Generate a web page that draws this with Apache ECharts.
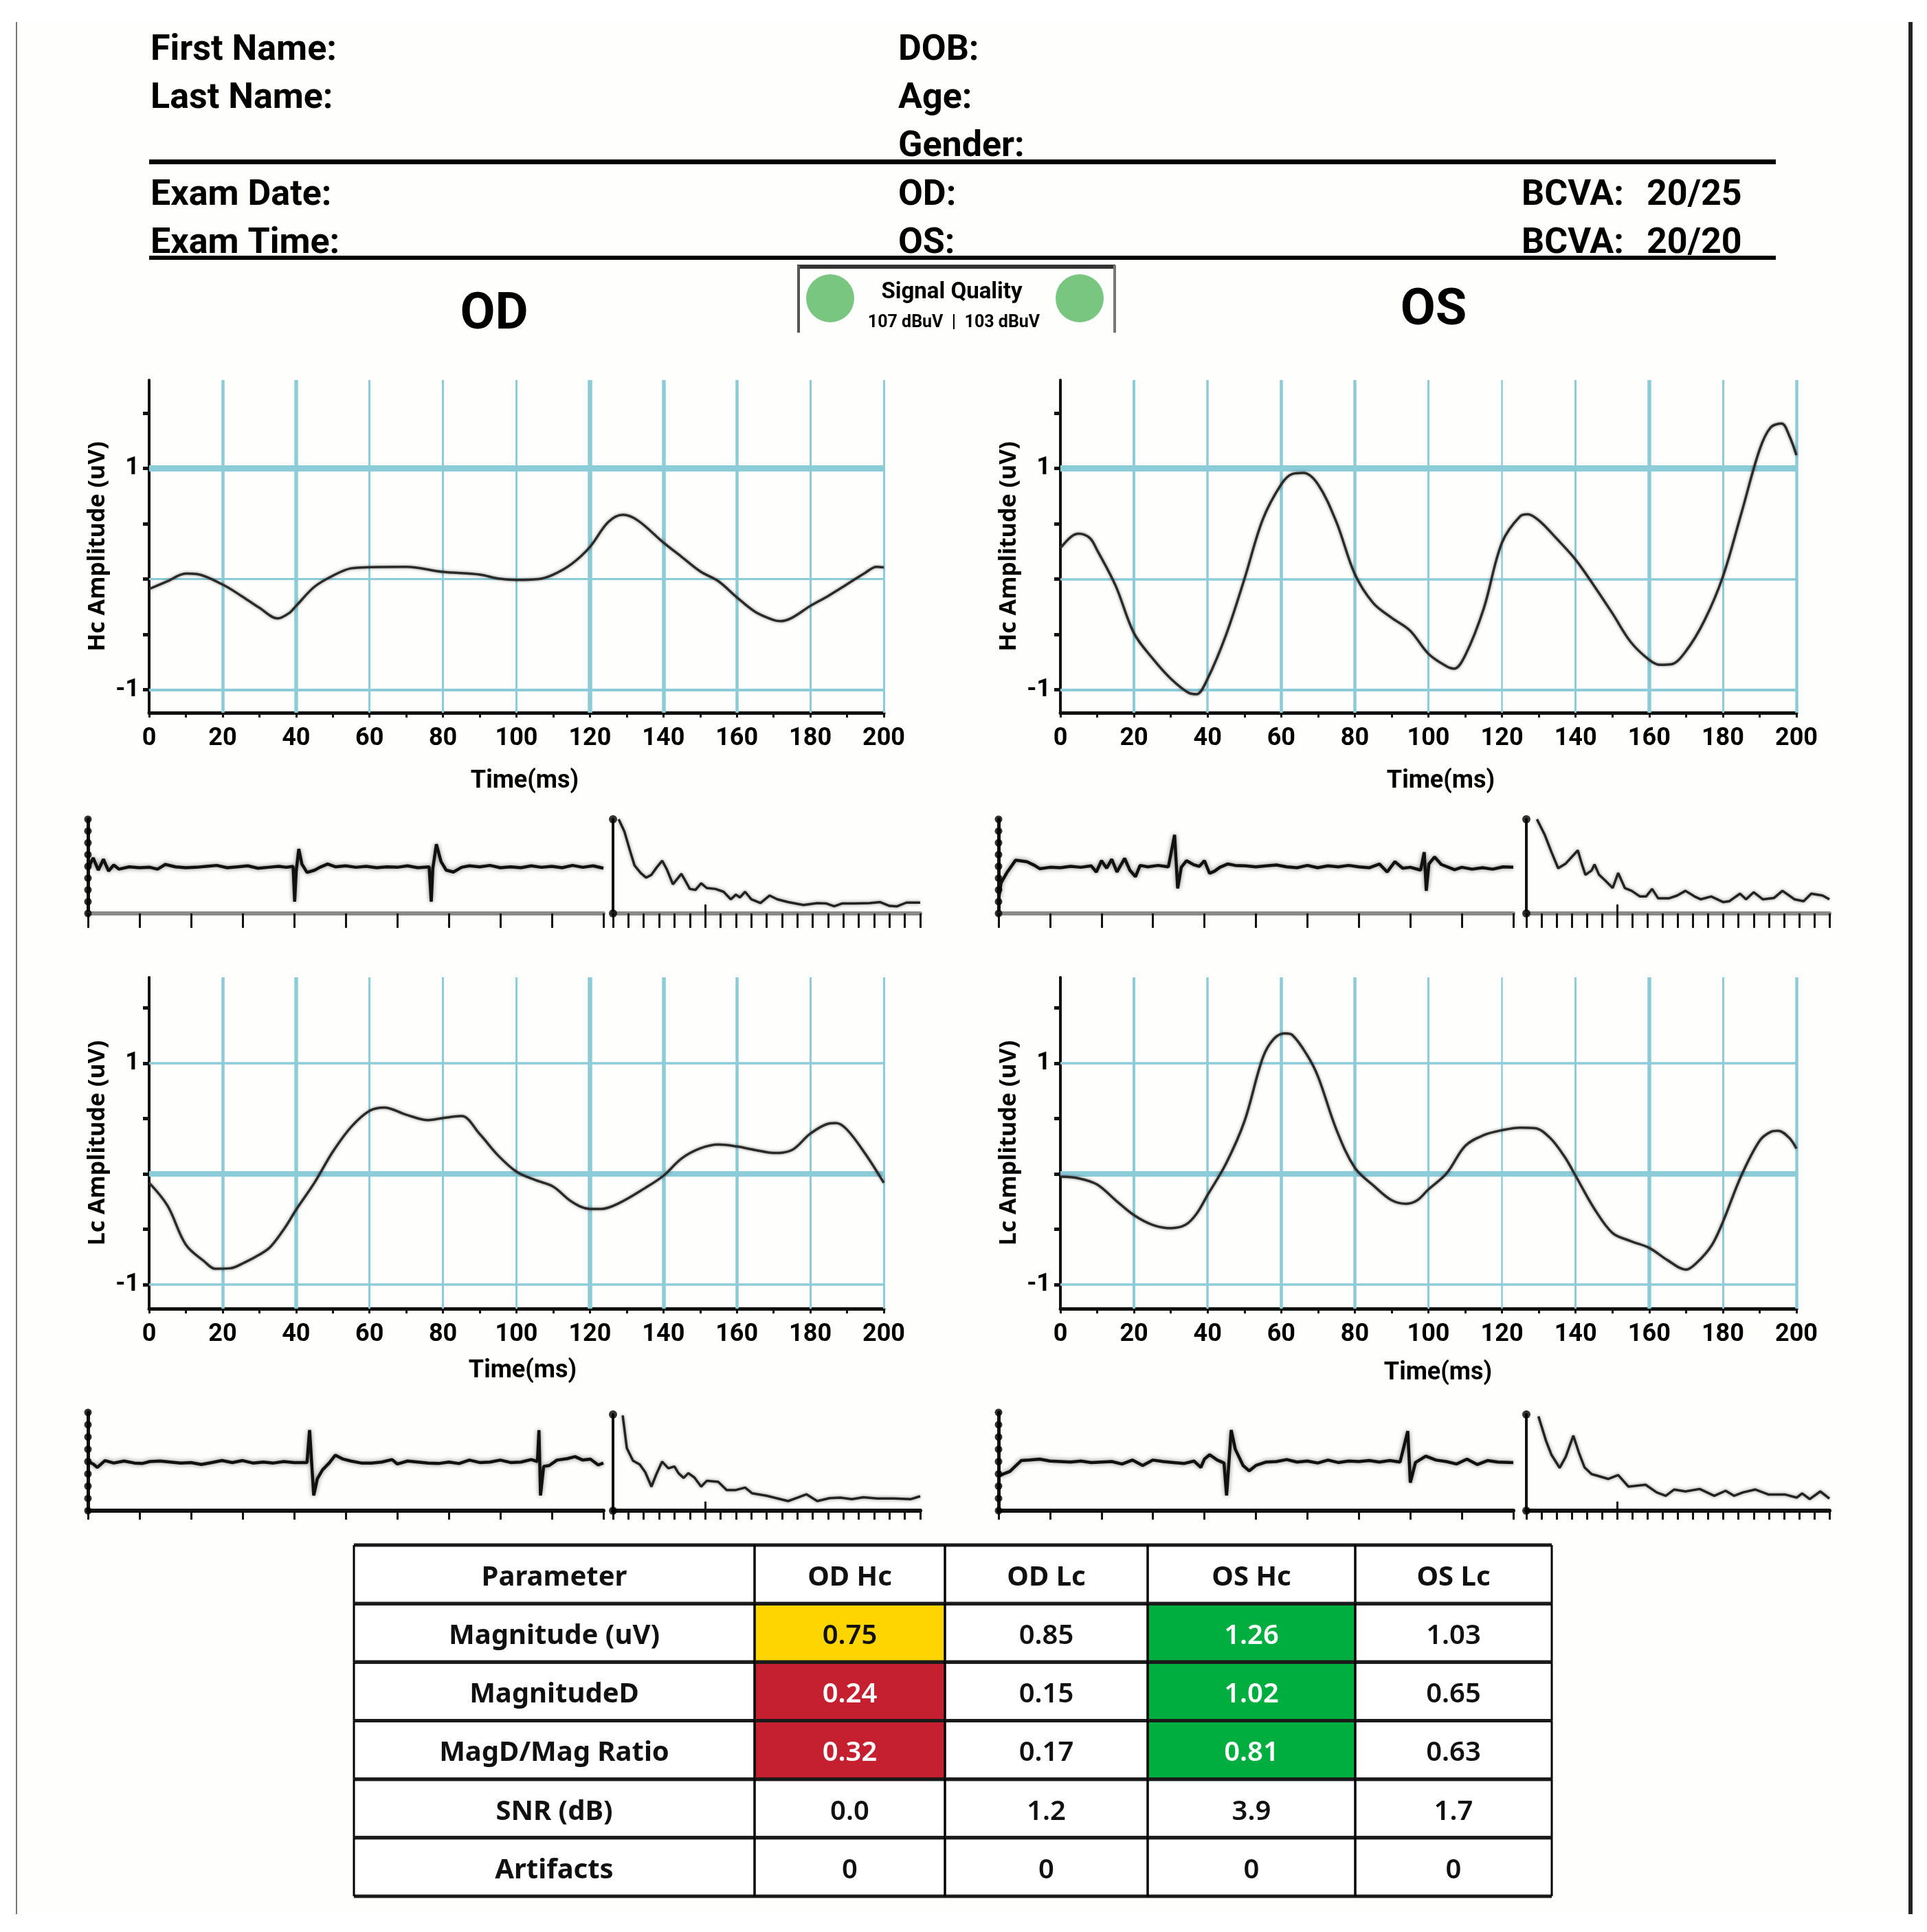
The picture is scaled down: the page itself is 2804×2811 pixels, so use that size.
<!DOCTYPE html>
<html><head><meta charset="utf-8">
<style>html,body{margin:0;padding:0;background:#fff}#c{width:2804px;height:2811px}</style>
<script src="https://cdn.jsdelivr.net/npm/echarts@6/dist/echarts.min.js"></script>
</head><body><div id="c"></div>
<script>
// ---------- main waveforms: [time ms, amplitude uV] ----------
const odHc = [[0,-.09],[5,-.02],[10,.05],[13,.045],[20,-.05],[25,-.15],[30,-.26],[35,-.356],[38,-.31],[40,-.243],[45,-.07],[50,.03],[55,.097],[60,.107],[70,.11],[80,.065],[90,.04],[95,.005],[100,-.008],[106,0],[110,.04],[115,.136],[120,.29],[125,.515],[129,.58],[133,.53],[140,.33],[145,.2],[150,.07],[155,-.02],[160,-.165],[165,-.296],[170,-.37],[172,-.38],[175,-.35],[180,-.243],[185,-.15],[190,-.047],[195,.058],[198,.11],[200,.105]];
const osHc = [[0,.28],[3,.385],[5,.41],[8,.37],[10,.26],[15,-.06],[20,-.49],[25,-.715],[30,-.9],[35,-1.03],[37,-1.04],[40,-.9],[45,-.505],[50,0],[55,.54],[60,.856],[63,.95],[66,.96],[70,.856],[75,.515],[80,.045],[85,-.217],[90,-.35],[95,-.466],[100,-.675],[105,-.79],[107,-.81],[110,-.69],[115,-.27],[120,.33],[125,.57],[127,.586],[130,.53],[135,.36],[140,.175],[145,-.06],[150,-.31],[155,-.57],[160,-.73],[163,-.775],[166,-.77],[170,-.65],[175,-.375],[180,.02],[185,.59],[190,1.17],[193,1.37],[196,1.405],[198,1.3],[200,1.12]];
const odLc = [[0,-.08],[5,-.287],[10,-.64],[15,-.79],[18,-.857],[22,-.853],[26,-.8],[30,-.73],[33,-.66],[37,-.484],[40,-.324],[45,-.08],[50,.2],[55,.425],[60,.57],[64,.6],[70,.535],[76,.486],[80,.505],[85,.523],[90,.36],[95,.167],[100,.02],[105,-.054],[110,-.115],[115,-.25],[120,-.317],[123,-.317],[128,-.263],[135,-.128],[140,-.017],[145,.14],[150,.23],[155,.265],[160,.248],[165,.216],[170,.19],[175,.216],[180,.364],[185,.455],[187,.46],[190,.4],[195,.18],[200,-.08]];
const osLc = [[0,-.025],[5,-.04],[10,-.096],[15,-.238],[20,-.373],[25,-.46],[30,-.49],[34,-.46],[37,-.36],[40,-.19],[45,.093],[50,.474],[55,1.05],[58,1.22],[61,1.27],[63,1.255],[67,1.076],[70,.88],[75,.4],[80,.056],[85,-.103],[90,-.238],[94,-.27],[97,-.238],[100,-.14],[105,.007],[110,.253],[115,.35],[120,.395],[125,.418],[129,.413],[133,.327],[137,.155],[140,-.017],[145,-.31],[150,-.533],[155,-.607],[160,-.668],[165,-.78],[170,-.865],[173,-.8],[177,-.644],[180,-.435],[185,-.017],[190,.3],[193,.38],[195,.39],[198,.327],[200,.228]];

// ---------- small raw traces: [time %, amplitude] ----------
const odHcTrace = [[0,-.05],[1,.18],[2,-.08],[3,.15],[4,-.1],[5,.03],[6,-.06],[8,-.01],[10,-.03],[12,-.02],[13.5,-.06],[15,.04],[17,-.01],[19,-.03],[21,-.02],[23,0],[25,.02],[27,-.03],[29,-.01],[31,.01],[33,-.04],[35,-.02],[37,0],[38.5,-.02],[39.8,0],[40.1,-.75],[40.4,-.1],[40.9,.37],[41.5,.05],[42.5,-.13],[44,-.08],[45,-.02],[46.5,.05],[48,-.01],[50,.01],[52,-.02],[54,0],[56,-.03],[58,-.01],[60,-.02],[62,.01],[64,-.03],[66.2,-.01],[66.6,-.75],[66.9,-.05],[67.6,.47],[68.5,.1],[69.5,-.08],[70.9,-.12],[72.5,-.02],[74,.01],[76,-.01],[78,.02],[80,-.03],[82,-.01],[84,-.03],[86,.01],[88,-.02],[90,0],[92,-.03],[94,.02],[96,-.02],[98,.01],[100,-.04]];
const osHcTrace = [[0,-.7],[.5,-.35],[1.7,-.12],[3.3,.13],[5.5,.1],[7,.02],[8,-.05],[10,-.02],[12,-.03],[14,0],[16,-.02],[18,.01],[19,-.12],[20,.12],[21,-.04],[22,.15],[23,-.12],[24.5,.17],[25.5,-.08],[26.6,-.22],[27.5,.02],[29,-.01],[31,.02],[33,-.01],[34.2,.67],[34.8,-.47],[35.5,-.02],[36.5,.12],[38,.03],[39,0],[40,.12],[41,-.15],[42,-.1],[43,-.02],[44.5,.05],[46,.02],[48,.01],[50,-.01],[52,.01],[54,.03],[56,-.01],[58,-.03],[60,.02],[62,-.03],[64,.01],[66,-.01],[68,.02],[70,-.01],[72,-.03],[74,.05],[75.5,-.12],[77,.1],[78.5,-.04],[80,-.02],[82,-.08],[82.7,.3],[83.1,-.52],[83.6,.05],[84.7,.2],[86,.04],[88.6,-.07],[90,-.02],[92,-.06],[94,-.03],[96,-.06],[98,-.01],[100,-.02]];
const odLcTrace = [[0,0],[1,-.05],[1.8,-.12],[3.3,.02],[5,-.03],[7,.01],[9,-.03],[10.5,-.04],[12,0],[14,.01],[16,-.01],[18,-.03],[20,-.02],[22,-.06],[24,-.02],[26,.02],[28,-.02],[30,.02],[32,-.03],[34,-.01],[36,-.03],[38,0],[40,-.02],[42.5,-.02],[43,.64],[43.8,-.69],[44.5,-.35],[45.5,-.17],[46.8,-.03],[48,.13],[49.5,.05],[51,.01],[53,-.03],[55,-.03],[57,-.01],[59,.04],[60,-.05],[62,.01],[64,-.01],[66,-.03],[68,-.04],[70,-.01],[72,-.04],[74,.03],[76,-.02],[78,-.01],[80,.03],[82,-.02],[84,-.01],[86,.04],[87.2,0],[87.5,.64],[87.8,-.69],[88.4,-.1],[89.5,-.08],[91,.03],[93,.06],[94.5,.1],[96,.03],[97.5,.05],[99,-.07],[100,-.03]];
const osLcTrace = [[0,-.3],[1,-.25],[2.2,-.2],[4.4,.02],[6,.03],[8,.05],[10,.01],[12,0],[14,-.01],[16,.01],[18,-.02],[20,-.01],[22,0],[24,-.05],[26,.03],[28,-.08],[30,.03],[32,0],[34,-.02],[36,-.04],[38,.01],[39.3,-.12],[40,.05],[41,.14],[42.5,.03],[43.8,-.03],[44.3,-.69],[45.2,.64],[46,.25],[47.5,-.08],[48.7,-.19],[50,-.08],[52,-.01],[54,0],[56,.04],[58,-.01],[60,.01],[62,-.03],[64,.03],[66,-.02],[68,.01],[70,0],[72,.02],[74,-.01],[76,.02],[78,-.01],[79.5,.62],[80,-.43],[81,-.02],[83,.11],[85,.03],[87,0],[89,-.05],[91,.05],[93,-.06],[95,.02],[97,-.01],[100,-.02]];

// ---------- small decay traces: [position %, level %] ----------
const odHcDecay = [[3.7,100],[7.4,87],[11,67],[14,51],[18,43],[21.5,38],[25,41],[28.5,49],[32,56],[35,47],[39,31],[42,37],[44.5,42],[47,35],[50,26],[53.7,25],[57.4,32],[61,27],[66.7,26],[72,23],[76.7,15],[80,20],[82.6,17],[86,23],[90,15],[96,11],[102,19],[107,15],[114,12],[124,9],[133,11],[139,10.5],[144,7.5],[149,10.5],[157,10.5],[167,11],[174,12],[180,8],[185,7.5],[191,11.5],[200,11.5]];
const osHcDecay = [[7,100],[12,84],[16.6,65],[21,48],[26,53],[30,60],[34,67],[36.5,53],[39,41],[43,45.5],[45,52],[48,41],[52,35],[57,27],[60.6,43],[65,27],[69.5,24],[75,18],[79,18],[83,26],[87,16],[94,16],[99.5,19],[105,24],[111,18],[115,15],[122,18],[130,12],[134,13],[141,21],[145,15],[150,22.5],[156,15],[163.5,16.5],[169,24],[177,15],[183,13],[188,21],[195.5,19],[200,15]];
const odLcDecay = [[6.3,99],[9,65],[13,52],[17.4,48],[21,40],[25,25],[28.5,39],[32,51],[36,44],[40,46],[42.6,39],[46,34],[49,39],[53,34.5],[57.4,25],[61,31],[68.5,30],[74,21.5],[80,21.5],[86,24],[90.7,18],[100,15.5],[109,12],[114,10],[120,13.5],[126,17],[133,10],[141,13],[148,13.5],[155.5,12],[163,14],[172,12.6],[183,12.6],[194,12],[200,15]];
const osLcDecay = [[8,98],[13,72.6],[16.6,58],[22,44.5],[26,56],[31,78],[34.6,60.7],[38.4,45],[43,38],[46.7,36.4],[54,33],[60.6,37],[67.4,25],[78.7,27],[86,19],[92,15.5],[97.6,22],[105,20],[114.4,22.6],[124,15.5],[131.5,20.7],[137,15.5],[143,19],[151,22],[160,16.7],[171,16.7],[178.5,13.6],[182,18],[187,12],[194,20],[200,12.6]];

// ---------- table ----------
const tableHeader = ["Parameter","OD Hc","OD Lc","OS Hc","OS Lc"];
const tableParams = ["Magnitude (uV)","MagnitudeD","MagD/Mag Ratio","SNR (dB)","Artifacts"];
const tableOdHc = ["0.75","0.24","0.32","0.0","0"];
const tableOdLc = ["0.85","0.15","0.17","1.2","0"];
const tableOsHc = ["1.26","1.02","0.81","3.9","0"];
const tableOsLc = ["1.03","0.65","0.63","1.7","0"];
const YEL="#FFD500", RED="#C5202F", GRN="#00AE3F";
const tableOdHcFill = [YEL,RED,RED,null,null];
const tableOsHcFill = [GRN,GRN,GRN,null,null];

// ---------- header text ----------
const headerRows = [
 ["First Name:",219,74],["Last Name:",219,144],["Exam Date:",219,285],["Exam Time:",219,355],
 ["DOB:",1307,74],["Age:",1307,144],["Gender:",1307,214],["OD:",1307,285],["OS:",1307,355],
 ["BCVA:",2214,285],["20/25",2396,285],["BCVA:",2214,355],["20/20",2396,355]
];

const FONT = '"Noto Sans", sans-serif';
const FONT2 = 'Roboto, "Noto Sans", sans-serif';
const GRID = "#8ccbd8";
const grid=[],xAxis=[],yAxis=[],series=[];

function addMain(o){
  const i=grid.length;
  grid.push({left:o.left,top:o.top,width:o.width,height:o.height});
  xAxis.push({gridIndex:i,type:'value',min:0,max:200,interval:20,
    axisLine:{onZero:false,lineStyle:{color:'#111',width:5}},
    axisTick:{show:true,length:7,lineStyle:{color:'#111',width:3}},
    minorTick:{show:true,splitNumber:2,length:7,lineStyle:{color:'#111',width:3}},
    splitLine:{show:false},
    axisLabel:{color:'#000',fontFamily:FONT2,fontWeight:'bold',fontSize:36,margin:20,showMinLabel:true,showMaxLabel:true},
    name:'Time(ms)',nameLocation:'center',nameGap:o.nameGap,
    nameTextStyle:{color:'#000',fontFamily:FONT2,fontWeight:'bold',fontSize:36,padding:[0,0,0,o.namePad]}});
  yAxis.push({gridIndex:i,type:'value',min:o.ymin,max:o.ymax,
    axisLine:{onZero:false,show:true,lineStyle:{color:'#111',width:4}},
    axisTick:{show:true,length:9,customValues:[-1,-.5,0,.5,1,1.5],lineStyle:{color:'#111',width:5}},
    splitLine:{show:false},
    axisLabel:{color:'#000',fontFamily:FONT2,fontWeight:'bold',fontSize:36,margin:14,customValues:[-1,1],formatter:v=>String(v)},
    name:o.yName,nameLocation:'center',nameGap:58,nameRotate:90,
    nameTextStyle:{color:'#000',fontFamily:FONT,fontWeight:'bold',fontSize:34}});
  const gl=[];
  o.hLines.forEach(([v,w])=>gl.push({yAxis:v,lineStyle:{width:w,color:GRID,type:'solid'}}));
  o.vWidths.forEach((w,k)=>gl.push({xAxis:(k+1)*20,lineStyle:{width:w,color:GRID,type:'solid'}}));
  series.push({type:'line',xAxisIndex:i,yAxisIndex:i,data:o.data,smooth:.35,showSymbol:false,z:5,
    lineStyle:{color:'#2a2a2a',width:3.5,shadowColor:'rgba(0,0,0,.45)',shadowBlur:4},
    markLine:{silent:true,symbol:'none',label:{show:false},animation:false,z:1,data:gl},animation:false});
}
function addTrace(o){
  const i=grid.length;
  grid.push({left:o.left,top:o.top,width:o.width,height:o.height});
  xAxis.push({gridIndex:i,type:'value',min:0,max:100,interval:10,
    axisLine:{onZero:false,lineStyle:{color:o.axisColor,width:6}},
    axisTick:{length:o.tickLen,lineStyle:{color:'#111',width:3}},
    splitLine:{show:false},axisLabel:{show:false}});
  yAxis.push({gridIndex:i,type:'value',min:-1,max:1,interval:.25,
    axisLine:{onZero:false,show:true,lineStyle:{color:'#111',width:5}},
    axisTick:{show:false},splitLine:{show:false},axisLabel:{show:false}});
  series.push({type:'line',xAxisIndex:i,yAxisIndex:i,data:o.data,showSymbol:false,animation:false,clip:false,z:5,
    lineStyle:{color:'#111',width:4.5,shadowColor:'rgba(0,0,0,.5)',shadowBlur:6}});
  series.push({type:'scatter',xAxisIndex:i,yAxisIndex:i,clip:false,z:6,animation:false,symbolSize:11,itemStyle:{color:'#000'},
    data:[-1,-.75,-.5,-.25,0,.25,.5,.75,1].map(v=>[0,v])});
}
function addDecay(o){
  const i=grid.length;
  grid.push({left:o.left,top:o.top,width:o.width,height:o.height});
  xAxis.push({gridIndex:i,type:'value',min:0,max:200,interval:10,
    axisLine:{onZero:false,lineStyle:{color:o.axisColor,width:6}},
    axisTick:{length:o.tickLen,lineStyle:{color:'#111',width:3}},
    splitLine:{show:false},axisLabel:{show:false}});
  yAxis.push({gridIndex:i,type:'value',min:0,max:100,interval:50,
    axisLine:{onZero:false,show:true,lineStyle:{color:'#111',width:4}},
    axisTick:{show:false},splitLine:{show:false},axisLabel:{show:false}});
  series.push({type:'line',xAxisIndex:i,yAxisIndex:i,data:o.data,showSymbol:false,animation:false,clip:false,z:5,
    lineStyle:{color:'#222',width:3.5,shadowColor:'rgba(0,0,0,.45)',shadowBlur:5},
    markLine:{silent:true,symbol:'none',label:{show:false},animation:false,
      data:[[{coord:[60,0]},{coord:[60,9.5]}]],lineStyle:{color:'#111',width:3,type:'solid'}}});
  series.push({type:'scatter',xAxisIndex:i,yAxisIndex:i,clip:false,z:6,animation:false,symbolSize:12,itemStyle:{color:'#000'},
    data:[[0,0],[0,100]]});
}

const vLeft=[4.5,5.5,3,3,3,6.5,5.5,4.5,3,3], vRight=[4,3.5,4.5,4.5,3,2.5,3,5.5,3,4.5];
const hcY={top:553,height:484,ymin:-1.208,ymax:1.798}, lcY={top:1422,height:482,ymin:-1.217,ymax:1.776};
addMain({left:217,width:1069,...hcY,yName:'Hc Amplitude (uV)',nameGap:82,namePad:24,data:odHc,vWidths:vLeft,hLines:[[1,9],[0,3],[-1,4]]});
addMain({left:1543,width:1071,...hcY,yName:'Hc Amplitude (uV)',nameGap:82,namePad:36,data:osHc,vWidths:vRight,hLines:[[1,9],[0,3.5],[-1,4]]});
addMain({left:217,width:1069,...lcY,yName:'Lc Amplitude (uV)',nameGap:73,namePad:18,data:odLc,vWidths:vLeft,hLines:[[1,3.5],[0,8],[-1,3.5]]});
addMain({left:1543,width:1071,...lcY,yName:'Lc Amplitude (uV)',nameGap:76,namePad:28,data:osLc,vWidths:vRight,hLines:[[1,3.5],[0,8],[-1,3.5]]});

const rowA={top:1192,height:137,axisColor:'#8a8a8a',tickLen:21}, rowC={top:2055,height:143,axisColor:'#111',tickLen:13};
addTrace({left:128,width:750,...rowA,data:odHcTrace});
addDecay({left:892,width:447,...rowA,data:odHcDecay});
addTrace({left:1453,width:749,...rowA,data:osHcTrace});
addDecay({left:2221,width:441,...rowA,data:osHcDecay});
addTrace({left:128,width:750,...rowC,data:odLcTrace});
addDecay({left:892,width:447,...rowC,top:2058,height:140,data:odLcDecay});
addTrace({left:1453,width:749,...rowC,data:osLcTrace});
addDecay({left:2221,width:441,...rowC,top:2058,height:140,data:osLcDecay});

// table
const colEdges=[0,583,860,1155,1457,1743];
const tableCols=[tableParams,tableOdHc,tableOdLc,tableOsHc,tableOsLc];
const cells=[];
tableHeader.forEach((t,c)=>cells.push({value:[c,0],text:t,bold:true,fill:null,white:false}));
tableCols.forEach((col,c)=>col.forEach((t,r)=>{
  const f = c===1?tableOdHcFill[r]:c===3?tableOsHcFill[r]:null;
  cells.push({value:[c,r+1],text:t,bold:c===0,fill:f,white:f===RED||f===GRN});
}));
const ti=grid.length;
grid.push({left:515,top:2248,width:1743,height:511});
xAxis.push({gridIndex:ti,type:'value',min:0,max:1743,show:false});
yAxis.push({gridIndex:ti,type:'value',min:0,max:6,inverse:true,show:false});
series.push({type:'custom',xAxisIndex:ti,yAxisIndex:ti,animation:false,clip:false,z:5,silent:true,data:cells,
  encode:{x:0,y:1},
  renderItem(p,api){
    const d=cells[p.dataIndex];const c=d.value[0],r=d.value[1];
    const a=api.coord([colEdges[c],r]),b=api.coord([colEdges[c+1],r+1]);
    const ch=[];
    ch.push({type:'rect',z2:1,shape:{x:a[0],y:a[1],width:b[0]-a[0],height:b[1]-a[1]},style:{fill:d.fill||'#fff'}});
    ch.push({type:'line',z2:5,shape:{x1:a[0],y1:a[1],x2:b[0],y2:a[1]},style:{stroke:'#1a1a1a',lineWidth:5}});
    ch.push({type:'line',z2:5,shape:{x1:a[0],y1:b[1],x2:b[0],y2:b[1]},style:{stroke:'#1a1a1a',lineWidth:5}});
    ch.push({type:'line',z2:5,shape:{x1:a[0],y1:a[1],x2:a[0],y2:b[1]},style:{stroke:'#000',lineWidth:3}});
    ch.push({type:'line',z2:5,shape:{x1:b[0],y1:a[1],x2:b[0],y2:b[1]},style:{stroke:'#000',lineWidth:3}});
    ch.push({type:'text',z2:6,style:{x:(a[0]+b[0])/2,y:(a[1]+b[1])/2+5,text:d.text,align:'center',verticalAlign:'middle',
      fill:d.white?'#fff':'#111',font:(d.bold?'bold ':'600 ')+'40px '+FONT}});
    return {type:'group',children:ch};
  }});

// header, frame and signal box
const graphic=[];
graphic.push({type:'rect',silent:true,z:-10,shape:{x:24,y:32,width:2754,height:2753},style:{fill:'#FEFEFC'}});
const txt=(t,x,y,size,align,weight,fam)=>graphic.push({type:'text',silent:true,style:{text:t,x,y,align:align||'left',verticalAlign:'middle',fill:'#000',font:(weight||'bold')+' '+size+'px '+(fam||FONT2)}});
const rect=(x,y,w,h,c)=>graphic.push({type:'rect',silent:true,shape:{x,y,width:w,height:h},style:{fill:c}});
headerRows.forEach(([t,x,y])=>txt(t,x,y,52));
rect(217,232,2367,7,'#000');rect(217,372,2367,6,'#000');
rect(23,32,2,2753,'#777');rect(2777,32,6,2753,'#222');
txt('OD',719,459,74,'center');txt('OS',2086,453,74,'center');
rect(1160,385,463,6,'#333');rect(1160,386,4,98,'#555');rect(1620,386,4,98,'#777');
[1208,1571].forEach(x=>graphic.push({type:'circle',silent:true,shape:{cx:x,cy:434,r:35},style:{fill:'#78C67F'}}));
txt('Signal Quality',1385,426,33,'center');
txt('107 dBuV  |  103 dBuV',1388,470,25,'center');

const chart=echarts.init(document.getElementById('c'),null,{renderer:'canvas'});
chart.setOption({animation:false,backgroundColor:'#fff',grid,xAxis,yAxis,series,graphic});
</script></body></html>
